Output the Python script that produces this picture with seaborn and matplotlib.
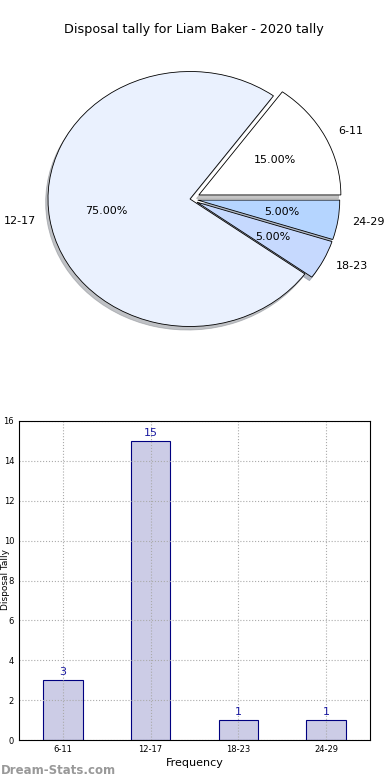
import matplotlib
matplotlib.use("Agg")
import matplotlib.pyplot as plt
import seaborn as sns
import pandas as pd

categories = ["6-11", "12-17", "18-23", "24-29"]
counts = [3, 15, 1, 1]
pie_colors = ["#ffffff", "#eaf1fe", "#c6d9fe", "#b5d5ff"]
explode = [0.07, 0.0, 0.055, 0.055]
title = "Disposal tally for Liam Baker - 2020 tally"

sns.set_theme(style="white")
plt.rcParams["font.family"] = ["DejaVu Sans"]
plt.rcParams["text.color"] = "black"
plt.rcParams["xtick.color"] = "black"
plt.rcParams["ytick.color"] = "black"
plt.rcParams["axes.labelcolor"] = "black"

W, H = 390, 780
fig = plt.figure(figsize=(W / 100, H / 100), dpi=100)

# Pie axes (elliptical, aspect auto)
rx, ry = 142, 127.5
cx, cy = 190, 199
pw, ph = 2.5 * rx, 2.5 * ry
ax1 = fig.add_axes([(cx - pw / 2) / W, 1 - (cy + ph / 2) / H, pw / W, ph / H])
ax1.pie(counts, labels=categories, colors=pie_colors, explode=explode,
        autopct="%.2f%%", shadow={"ox": -0.012, "oy": -0.02, "shade": 0.45},
        startangle=0, counterclock=True,
        wedgeprops=dict(edgecolor="black", linewidth=0.6),
        textprops=dict(fontsize=8, color="black"))
ax1.set_aspect("auto")
ax1.set_xlim(-1.25, 1.25)
ax1.set_ylim(-1.25, 1.25)
ax1.axis("off")
fig.text(194 / W, 1 - 30 / H, title, ha="center", va="center", fontsize=9.2)

# Bar axes
l, r, t, b = 19, 370, 421, 740
ax2 = fig.add_axes([l / W, 1 - b / H, (r - l) / W, (b - t) / H])
df = pd.DataFrame({"cat": categories, "count": counts})
sns.barplot(data=df, x="cat", y="count", ax=ax2, color="#ccccE6", saturation=1,
            edgecolor="#000080", linewidth=0.8, width=0.45)
ax2.set_xlim(-0.5, 3.5)
ax2.set_ylim(0, 16)
ax2.set_yticks(range(0, 17, 2))
ax2.grid(True, linestyle=":", color="#aaaaaa", linewidth=0.8)
ax2.set_axisbelow(False)
for sp in ax2.spines.values():
    sp.set_color("black")
    sp.set_linewidth(0.8)
    sp.set_zorder(5)
ax2.tick_params(axis="both", labelsize=6, length=2, colors="black", direction="in")
ax2.set_xlabel("Frequency", fontsize=8, labelpad=3)
ax2.set_ylabel("")
for i, v in enumerate(counts):
    ax2.text(i, v + 0.15, str(v), ha="center", va="bottom", fontsize=8, color="#1a1aa0")

fig.text(0.5 / W, 1 - 580 / H, "Disposal Tally", rotation=90, ha="left", va="center",
         fontsize=6.5)
fig.text(0.5 / W, 1 - 771 / H, "Dream-Stats.com", ha="left", va="center", fontsize=8.5,
         color="#999999", fontweight="bold")

fig.savefig("out.png", dpi=100)
